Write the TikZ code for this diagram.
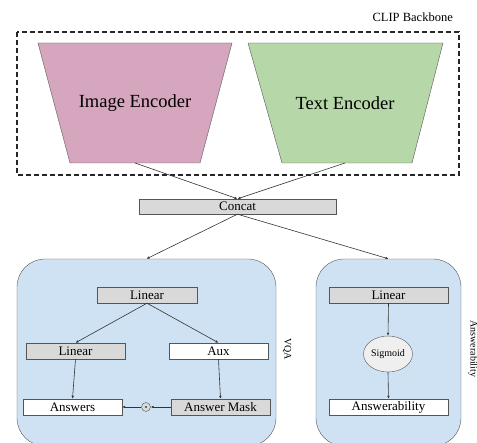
\documentclass[tikz,border=0pt]{standalone}
\usepackage{fontspec}
\setmainfont{Liberation Serif}
\usetikzlibrary{arrows.meta,positioning,shapes.geometric}

\definecolor{encpink}{HTML}{D5A6BD}
\definecolor{encgreen}{HTML}{B6D7A8}
\definecolor{headblue}{HTML}{CFE2F3}
\definecolor{layergray}{HTML}{D9D9D9}
\definecolor{sigfill}{HTML}{EFEFEF}
\definecolor{edgegray}{HTML}{555555}

\begin{document}
\begin{tikzpicture}[x=1pt,y=-1pt,>={Latex[length=3pt,width=2.6pt]}]
        \tikzstyle{every node}=[font=\fontsize{13}{15}\selectfont, inner sep=0pt]
        \tikzstyle{layer}=[draw=edgegray, fill=layergray, minimum width=99, minimum height=16]
        \tikzstyle{outbox}=[layer, fill=white]
        \tikzstyle{head}=[draw=edgegray, fill=headblue, rounded corners=28]
        \tikzstyle{sidelabel}=[rotate=-90, font=\fontsize{10}{12}\selectfont]
        \tikzstyle{flow}=[->, draw=black!80, line width=0.6pt]
        \useasboundingbox (0,0) rectangle (477,443);
        \clip (0,0) rectangle (477,443);

        % backbone
        \draw[draw=black!85, line width=1.2pt, dash pattern=on 5pt off 3pt] (17,32) rectangle (459,175);
        \node[anchor=east, font=\fontsize{12.5}{14}\selectfont] (backbone) at (453,17) {CLIP Backbone};
        \draw[draw=edgegray, fill=encpink] (38,43) -- (232,43) -- (200,163) -- (70,163) -- cycle;
        \draw[draw=edgegray, fill=encgreen] (248,43) -- (443,43) -- (412,163) -- (282,163) -- cycle;
        \node[font=\fontsize{18.5}{20}\selectfont] (imgenc) at (135,103) {Image Encoder};
        \node[font=\fontsize{18.5}{20}\selectfont] (txtenc) at (345,103) {Text Encoder};
        \coordinate (imgout) at (135,163);
        \coordinate (txtout) at (345,163);

        \node[layer, minimum width=197, minimum height=15] (concat) at (237.5,206.5) {Concat};
        \draw[flow] (imgout) -- (concat.north);
        \draw[flow] (txtout) -- (concat.north);

        % heads
        \node[head, minimum width=259, minimum height=187] (vqa) at (146.5,352.5) {};
        \node[head, minimum width=145, minimum height=187] (answ) at (388.5,352.5) {};
        \draw[flow] (concat.south) -- (vqa.north);
        \draw[flow] (concat.south) -- (answ.north);
        \node[sidelabel] (vqalabel) at (287,349) {VQA};
        \node[sidelabel] (answlabel) at (473,349) {Answerability};

        % VQA head
        \node[layer, minimum width=100] (lintop) at (147,295) {Linear};
        \node[layer] (linleft) at (75.5,351) {Linear};
        \node[outbox] (aux) at (218.5,351) {Aux};
        \node[outbox] (answers) at (72.5,407) {Answers};
        \node[layer] (mask) at (220.5,407) {Answer Mask};
        \node[circle, draw=edgegray, fill=layergray, minimum size=9] (prod) at (146,407) {};
        \fill (prod.center) circle (0.9);
        \draw[flow] (lintop.south) -- (linleft.north);
        \draw[flow] (lintop.south) -- (aux.north);
        \draw[flow] (linleft.south) -- (answers.north);
        \draw[flow] (aux.south) -- (mask.north);
        \draw[flow] (mask.west) -- (prod.east);
        \draw[flow] (prod.west) -- (answers.east);

        % answerability head
        \node[layer, minimum width=119] (alin) at (388.5,295) {Linear};
        \node[ellipse, draw=edgegray, fill=sigfill, minimum width=49, minimum height=36, font=\fontsize{10}{12}\selectfont] (sig) at (388,354) {Sigmoid};
        \node[outbox, minimum width=119] (aout) at (388.5,407) {Answerability};
        \draw[flow] (alin.south) -- (sig.north);
        \draw[flow] (sig.south) -- (aout.north);
\end{tikzpicture}
\end{document}
